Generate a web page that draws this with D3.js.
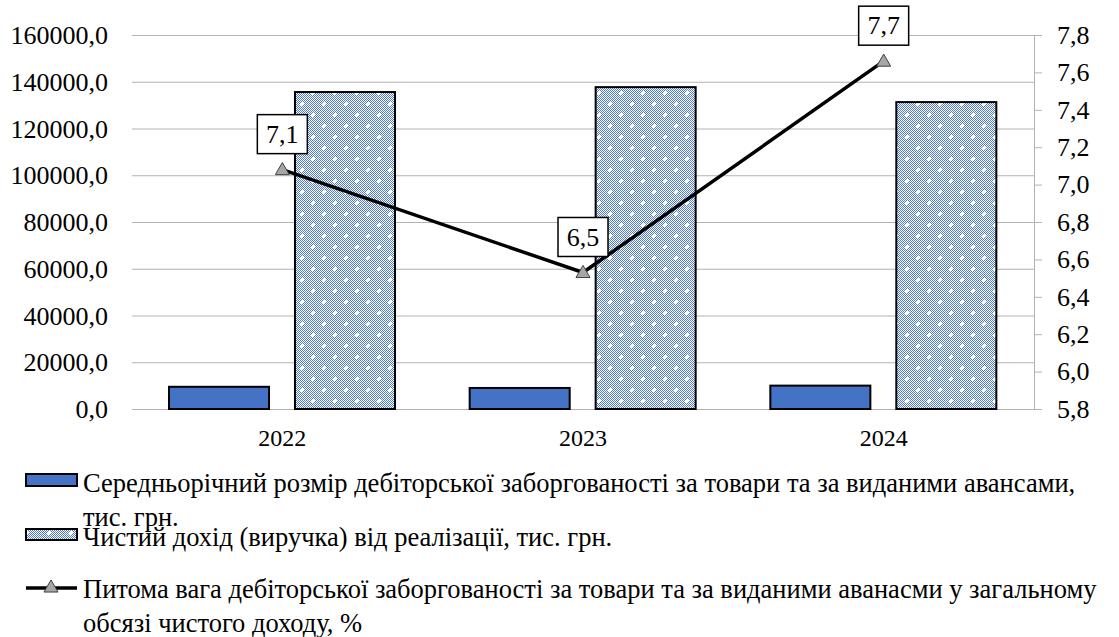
<!DOCTYPE html>
<html>
<head>
<meta charset="utf-8">
<script src="https://cdn.jsdelivr.net/npm/d3@7"></script>
<style>
  body{margin:0;background:#fff;}
  svg text{font-family:"Liberation Serif","Times New Roman",Times,"DejaVu Serif",serif;fill:#000;}
</style>
</head>
<body>
<div id="chart"></div>
<script>
var years = ["2022","2023","2024"];
var receivables = [9500, 9000, 10000];
var revenue = [135600, 137700, 131300];
var share = [7.08, 6.53, 7.66];
var shareLabels = ["7,1","6,5","7,7"];
var leftTicks = [0,20000,40000,60000,80000,100000,120000,140000,160000];
var rightTicks = [5.8,6.0,6.2,6.4,6.6,6.8,7.0,7.2,7.4,7.6,7.8];
var legendLines = [
  ["Середньорічний розмір дебіторської заборгованості за товари та за виданими авансами,","тис. грн."],
  ["Чистий дохід (виручка) від реалізації, тис. грн."],
  ["Питома вага дебіторської заборгованості за товари та за виданими аванасми у загальному","обсязі чистого доходу, %"]
];

var width = 1119, height = 637;
var padL = 132, padR = 1034, padT = 35, padB = 409;
var grid = "#b3b3b3";
var tickFont = 26, legFont = 26.5;
var comma = function(f){ return function(d){ return d3.format(f)(d).replace(".",","); }; };

var svg = d3.select("#chart").append("svg")
    .attr("width",width)
    .attr("height",height);

// patterns
var defs = svg.append("defs");
var ck = defs.append("pattern")
    .attr("id","checker")
    .attr("patternUnits","userSpaceOnUse")
    .attr("width",2).attr("height",2);
ck.append("rect").attr("width",2).attr("height",2).attr("fill","#fff");
ck.append("rect").attr("width",1).attr("height",1).attr("fill","#4f7bca");
ck.append("rect").attr("x",1).attr("y",1).attr("width",1).attr("height",1).attr("fill","#4f7bca");
var dots = defs.append("pattern")
    .attr("id","dots")
    .attr("patternUnits","userSpaceOnUse")
    .attr("width",22).attr("height",22);
dots.append("rect").attr("width",22).attr("height",22).attr("fill","url(#checker)");
[[5,5],[16,16]].forEach(function(p){
  dots.append("rect").attr("x",p[0]-1).attr("y",p[1]-2).attr("width",2).attr("height",4).attr("fill","#fff");
  dots.append("rect").attr("x",p[0]-2).attr("y",p[1]-1).attr("width",4).attr("height",2).attr("fill","#fff");
});

var xScale = d3.scaleBand().domain(years).range([padL,padR]);
var xSub = d3.scaleBand().domain(["a","b"]).range([37,263]).paddingInner(0.206);
var yLeft = d3.scaleLinear().domain([0,160000]).range([padB,padT]);
var yRight = d3.scaleLinear().domain([5.8,7.8]).range([padB,padT]);

// gridlines
svg.append("g")
    .attr("transform","translate("+padL+",0)")
    .call(d3.axisLeft(yLeft).tickValues(leftTicks).tickSize(-(padR-padL)).tickFormat(""))
    .call(function(g){
      g.select(".domain").remove();
      g.selectAll("line").attr("stroke",grid);
    });

// left labels
svg.append("g")
    .selectAll("text")
    .data(leftTicks)
    .enter()
    .append("text")
    .attr("x",108)
    .attr("y",function(d){ return yLeft(d); })
    .attr("dy","0.35em")
    .attr("text-anchor","end")
    .attr("font-size",tickFont)
    .text(comma(".1f"));

// right axis
var ra = svg.append("g")
    .attr("transform","translate("+padR+",0)")
    .call(d3.axisRight(yRight).tickValues(rightTicks).tickSize(8).tickPadding(15).tickFormat(comma(".1f")));
ra.select(".domain").attr("stroke",grid);
ra.selectAll("line").attr("stroke",grid);
ra.attr("font-family",null);
ra.selectAll("text").attr("font-size",tickFont).attr("fill","#000");

// x axis
var xa = svg.append("g")
    .attr("transform","translate(0,"+padB+")")
    .call(d3.axisBottom(xScale).tickSize(0).tickPadding(20));
xa.select(".domain").attr("stroke",grid).attr("d","M"+padL+",0.5H"+(padR+8));
xa.attr("font-family",null);
xa.selectAll("text").attr("font-size",24).attr("fill","#000");

// bars
svg.append("g")
    .selectAll("rect")
    .data(receivables)
    .enter()
    .append("rect")
    .attr("x",function(d,i){ return xScale(years[i])+xSub("a"); })
    .attr("y",function(d){ return yLeft(d); })
    .attr("width",xSub.bandwidth())
    .attr("height",function(d){ return padB-yLeft(d); })
    .attr("fill","#4472c4")
    .attr("stroke","#000")
    .attr("stroke-width",2);

svg.append("g")
    .selectAll("rect")
    .data(revenue)
    .enter()
    .append("rect")
    .attr("x",function(d,i){ return xScale(years[i])+xSub("b"); })
    .attr("y",function(d){ return yLeft(d); })
    .attr("width",xSub.bandwidth())
    .attr("height",function(d){ return padB-yLeft(d); })
    .attr("fill","url(#dots)")
    .attr("stroke","#000")
    .attr("stroke-width",2);

// line
var cx = function(d,i){ return xScale(years[i])+xScale.bandwidth()/2; };
var line = d3.line()
    .x(cx)
    .y(function(d){ return yRight(d); });
svg.append("path")
    .datum(share)
    .attr("d",line)
    .attr("fill","none")
    .attr("stroke","#000")
    .attr("stroke-width",3.5);

var tri = d3.symbol().type(d3.symbolTriangle).size(85);
svg.append("g")
    .selectAll("path")
    .data(share)
    .enter()
    .append("path")
    .attr("d",tri)
    .attr("transform",function(d,i){ return "translate("+cx(d,i)+","+(yRight(d)+1)+")"; })
    .attr("fill","#a6a6a6")
    .attr("stroke","#404040")
    .attr("stroke-width",1);

// data labels
var lab = svg.append("g")
    .selectAll("g")
    .data(share)
    .enter()
    .append("g")
    .attr("transform",function(d,i){ return "translate("+cx(d,i)+","+(yRight(d)-36)+")"; });
lab.append("rect")
    .attr("x",-25).attr("y",-19)
    .attr("width",50).attr("height",39)
    .attr("fill","#fff")
    .attr("stroke","#000")
    .attr("stroke-width",1.5);
lab.append("text")
    .attr("text-anchor","middle")
    .attr("dy","0.35em")
    .attr("font-size",26)
    .text(function(d,i){ return shareLabels[i]; });

// legend
var lg = svg.append("g");
lg.append("rect").attr("x",26).attr("y",474).attr("width",51).attr("height",12)
    .attr("fill","#4472c4").attr("stroke","#000").attr("stroke-width",2);
lg.append("rect").attr("x",26).attr("y",529).attr("width",51).attr("height",11)
    .attr("fill","url(#dots)").attr("stroke","#000").attr("stroke-width",2);
lg.append("line").attr("x1",26).attr("x2",77).attr("y1",588).attr("y2",588)
    .attr("stroke","#000").attr("stroke-width",3.5);
lg.append("path").attr("d",tri).attr("transform","translate(51,588)")
    .attr("fill","#a6a6a6").attr("stroke","#404040");

var legY = [483, 537, 589];
legendLines.forEach(function(ls,k){
  var t = lg.append("text")
      .attr("x",83)
      .attr("y",legY[k])
      .attr("font-size",legFont);
  ls.forEach(function(s,j){
    t.append("tspan").attr("x",83).attr("dy",j==0?"0.35em":34).text(s);
  });
});
</script>
</body>
</html>
